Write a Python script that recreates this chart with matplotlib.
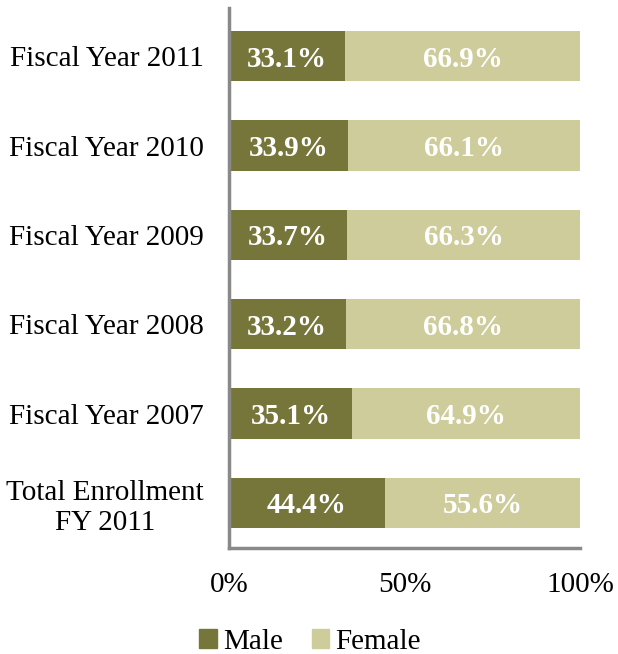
import matplotlib
matplotlib.use("Agg")
import matplotlib.pyplot as plt
from matplotlib.patches import Patch

categories = ["Fiscal Year 2011", "Fiscal Year 2010", "Fiscal Year 2009",
              "Fiscal Year 2008", "Fiscal Year 2007", "Total Enrollment\nFY 2011"]
male = [33.1, 33.9, 33.7, 33.2, 35.1, 44.4]
female = [66.9, 66.1, 66.3, 66.8, 64.9, 55.6]
xticks = [0, 50, 100]
xticklabels = ["0%", "50%", "100%"]

male_color = "#77763A"
female_color = "#CDCC9A"
font = ["Liberation Serif", "DejaVu Serif"]
plt.rcParams['font.family'] = font
FS = 21

fig = plt.figure(figsize=(6.18, 6.54), dpi=100)
ax = fig.add_axes([229/618, 1-548/654, (580-229)/618, (548-8)/654])

y = list(range(len(categories)))
ax.barh(y, male, height=0.56, color=male_color)
ax.barh(y, female, left=male, height=0.56, color=female_color)

for i in y:
    ax.text(male[i]/2, i, f"{male[i]:.1f}%", ha="center", va="center_baseline",
            color="white", fontsize=FS, fontweight="bold")
    ax.text(male[i] + female[i]/2, i, f"{female[i]:.1f}%", ha="center", va="center_baseline",
            color="white", fontsize=FS, fontweight="bold")

ax.set_xlim(0, 100)
ax.set_ylim(5 + 45/89, -48/89)
ax.set_yticks(y)
ax.set_yticklabels(categories, fontsize=FS, multialignment="center", linespacing=1.2)
ax.set_xticks(xticks)
ax.set_xticklabels(xticklabels, fontsize=FS)
ax.tick_params(axis="both", length=0)
ax.tick_params(axis="y", pad=18)
ax.tick_params(axis="x", pad=17)
for s in ["top", "right"]:
    ax.spines[s].set_visible(False)
for s in ["left", "bottom"]:
    ax.spines[s].set_color("#898989")
    ax.spines[s].set_linewidth(2.5)

handles = [Patch(color=male_color, label="Male"), Patch(color=female_color, label="Female")]
fig.legend(handles=handles, loc="center", bbox_to_anchor=(310/618, 1-642/654), ncol=2,
           frameon=False, fontsize=FS, handlelength=0.6, handleheight=0.6,
           handletextpad=0.2, columnspacing=1.0, borderpad=0.2)

fig.savefig("out.png", dpi=100)
